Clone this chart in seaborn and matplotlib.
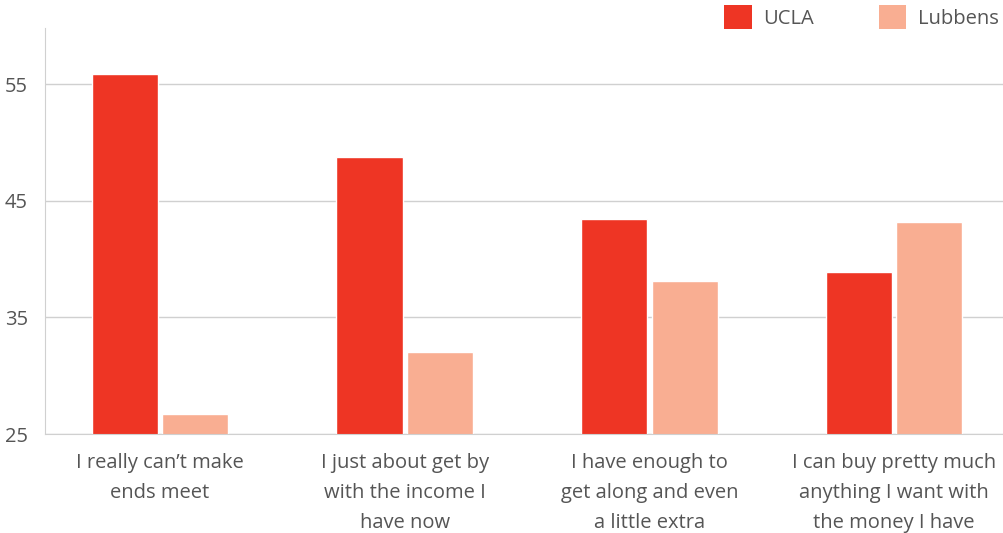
import matplotlib.pyplot as plt
import seaborn as sns
import pandas as pd
from matplotlib.patches import Patch

categories = [
    "I really can\u2019t make\nends meet",
    "I just about get by\nwith the income I\nhave now",
    "I have enough to\nget along and even\na little extra",
    "I can buy pretty much\nanything I want with\nthe money I have",
]
ucla = [55.9, 48.8, 43.4, 38.9]
lubbens = [26.7, 32.0, 38.1, 43.2]
series = ["UCLA", "Lubbens"]
colors = ["#EE3524", "#F9AE92"]
yticks = [25, 35, 45, 55]

df = pd.DataFrame({
    "category": categories * 2,
    "value": ucla + lubbens,
    "series": ["UCLA"] * 4 + ["Lubbens"] * 4,
})

sns.set_style("white")
plt.rcParams["font.family"] = ["Open Sans", "DejaVu Sans"]
text_color = "#555555"

fig = plt.figure(figsize=(10.04, 5.33), dpi=100)
ax = fig.add_axes([0.0448, 0.1857, 0.9552, 0.7613])

sns.barplot(data=df, x="category", y="value", hue="series", hue_order=series,
            palette=colors, width=0.575, gap=0.06, ax=ax, legend=False,
            saturation=1)

ax.set_ylim(25, 59.8)
ax.set_xlim(-0.47, 3.449)
ax.set_yticks(yticks)
ax.yaxis.grid(True, color="#d0d0d0", linewidth=1)
ax.set_axisbelow(True)
ax.set_xlabel("")
ax.set_ylabel("")
for s in ["top", "right"]:
    ax.spines[s].set_visible(False)
ax.spines["left"].set_color("#d0d0d0")
ax.spines["bottom"].set_color("#d0d0d0")
ax.spines["bottom"].set_zorder(5)
ax.tick_params(axis="both", length=0, labelsize=14.5, colors=text_color)
ax.tick_params(axis="x", pad=14)
for lbl in ax.get_yticklabels():
    lbl.set_horizontalalignment("left")
    lbl.set_x(-0.0448 + 0.003)
ax.yaxis.set_tick_params(pad=0)
for lbl in ax.get_xticklabels():
    lbl.set_linespacing(1.65)

handles = [Patch(facecolor=c, edgecolor="none") for c in colors]
fig.legend(handles, series, loc="upper right", bbox_to_anchor=(1.003, 1.005),
           ncol=2, frameon=False, fontsize=14.5, labelcolor=text_color,
           handlelength=1.35, handleheight=1.45, handletextpad=0.6,
           columnspacing=3.2, borderaxespad=0.0)

plt.savefig("out.png", dpi=100)
